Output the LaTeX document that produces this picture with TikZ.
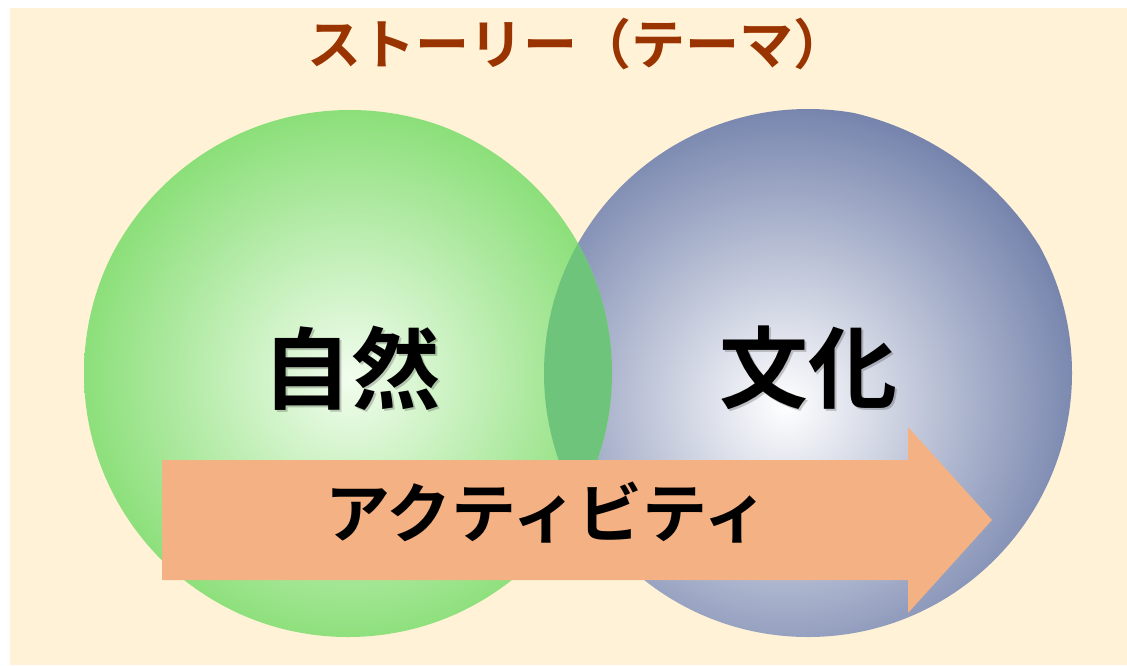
\documentclass[tikz,border=0pt]{standalone}
\usepackage{fontspec}
\newfontfamily\jp{Noto Sans CJK JP Bold}
\definecolor{cream}{HTML}{FFF2D6}
\definecolor{titlebrown}{HTML}{993300}
\definecolor{greenedge}{HTML}{8BDF79}
\definecolor{greencenter}{HTML}{F2FDEE}
\definecolor{blueedge}{HTML}{7684AD}
\definecolor{bluecenter}{HTML}{FFFFFF}
\definecolor{lens}{HTML}{6EC47A}
\definecolor{arrowfill}{HTML}{F4B183}
\tikzset{
  bigword/.style={font=\jp\fontsize{89}{92}\selectfont, text=black, inner sep=0pt},
  shadowword/.style={font=\jp\fontsize{89}{92}\selectfont, text=black, opacity=0.2, inner sep=0pt},
  titletext/.style={font=\jp\fontsize{54}{60}\selectfont, text=titlebrown, inner sep=0pt},
  arrowtext/.style={font=\jp\fontsize{65}{68}\selectfont, text=black, inner sep=0pt},
}
\begin{document}
\begin{tikzpicture}[x=1pt,y=-1pt]
\useasboundingbox (0,0) rectangle (1127,665);
\fill[white] (0,0) rectangle (1127,665);
\fill[cream] (10,8) rectangle (1127,665);
% blue circle (culture)
\begin{scope}
  \clip (808,373) circle (264);
  \shade[inner color=bluecenter, outer color=blueedge] (785,405) circle (300);
\end{scope}
% green circle (nature)
\begin{scope}
  \clip (348,373) circle (264);
  \shade[inner color=greencenter, outer color=greenedge] (350,378) circle (268);
\end{scope}
% overlap lens
\begin{scope}
  \clip (348,373) circle (264);
  \fill[lens] (808,373) circle (264);
\end{scope}
% labels
\node[titletext] (title) at (577,44) {ストーリー（テーマ）};
\node[shadowword] (natureshadow) at (353,370) {自然};
\node[bigword] (nature) at (351,368) {自然};
\node[shadowword] (cultureshadow) at (810,370) {文化};
\node[bigword] (culture) at (808,368) {文化};
% arrow
\fill[arrowfill] (162,460) -- (908,460) -- (908,427) -- (992,520) -- (908,613) -- (908,580) -- (162,580) -- cycle;
\node[arrowtext] (activity) at (547,513) {アクティビティ};
\end{tikzpicture}
\end{document}
